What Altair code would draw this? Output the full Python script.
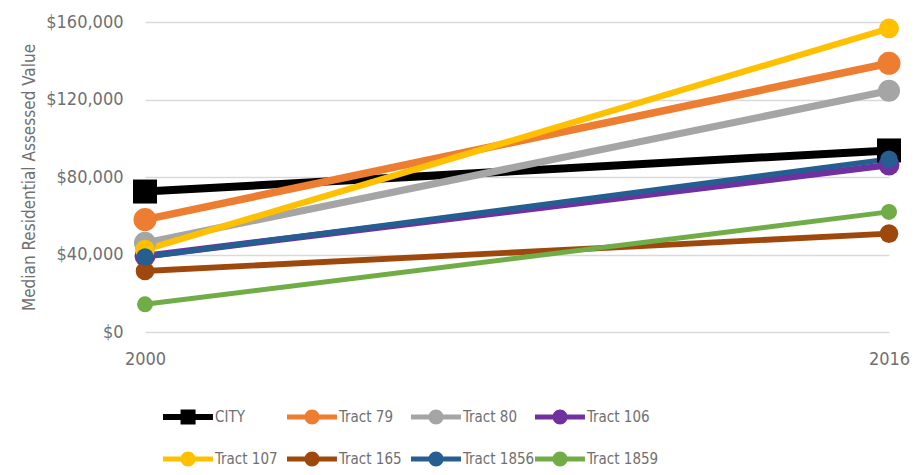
import altair as alt
import pandas as pd

years = ["2000", "2016"]
series = ["CITY", "Tract 79", "Tract 80", "Tract 106", "Tract 107", "Tract 165", "Tract 1856", "Tract 1859"]
values_2000 = [72500, 58000, 46000, 39200, 42500, 31500, 38800, 14300]
values_2016 = [93700, 138700, 124500, 86200, 156700, 50800, 89200, 62000]
colors = ["#000000", "#ED7D31", "#A5A5A5", "#7030A0", "#FFC000", "#9E480E", "#255E91", "#70AD47"]
shapes = ["square", "circle", "circle", "circle", "circle", "circle", "circle", "circle"]
marker_sizes = [576, 256, 256, 256, 256, 256, 256, 256]
widths = [8, 5, 5, 5, 5, 5, 5, 5]
y_ticks = [0, 40000, 80000, 120000, 160000]

rows = []
for i, s in enumerate(series):
    rows.append({"series": s, "year": years[0], "value": values_2000[i], "idx": i})
    rows.append({"series": s, "year": years[1], "value": values_2016[i], "idx": i})
df = pd.DataFrame(rows)

FONT = "DejaVu Sans Condensed"
TXT = "#707070"

circle_path = "M-1,-0.17H2.33V0.17H-1Z M1.17,0A0.5,0.5 0 1 1 0.17,0A0.5,0.5 0 1 1 1.17,0Z"
square_path = "M-1,-0.2H2.33V0.2H-1Z M0.17,-0.5H1.17V0.5H0.17Z"
legend_shapes = [square_path] + [circle_path] * 7

x_enc = alt.X("year:O", scale=alt.Scale(domain=years, padding=0),
              axis=alt.Axis(title=None, labelAngle=0, labelFontSize=18, labelColor=TXT,
                            labelFont=FONT, ticks=False, domain=False, labelPadding=18,
                            grid=False))
y_enc = alt.Y("value:Q", scale=alt.Scale(domain=[0, 160000], nice=False),
              axis=alt.Axis(title="Median Residential Assessed Value", values=y_ticks,
                            format="$,.0f", labelFontSize=18, labelColor=TXT, labelFont=FONT,
                            titleFont=FONT, titleFontSize=17, titleColor=TXT,
                            titleFontWeight="normal", titlePadding=7,
                            ticks=False, domain=False, labelPadding=22,
                            gridColor="#D9D9D9", gridWidth=1.5))

color_scale = alt.Scale(domain=series, range=colors)

lines = alt.Chart(df).mark_line().encode(
    x=x_enc, y=y_enc,
    color=alt.Color("series:N", scale=color_scale, legend=None),
    strokeWidth=alt.StrokeWidth("series:N", scale=alt.Scale(domain=series, range=widths), legend=None),
    detail="series:N",
)

points = alt.Chart(df).mark_point(filled=True, opacity=1).encode(
    x=x_enc, y=y_enc,
    color=alt.Color("series:N", scale=color_scale, legend=None),
    shape=alt.Shape("series:N", scale=alt.Scale(domain=series, range=shapes), legend=None),
    size=alt.Size("series:N", scale=alt.Scale(domain=series, range=marker_sizes), legend=None),
    order=alt.Order("idx:Q"),
)

legend = alt.Legend(
    title=None, orient="none", legendX=18, legendY=380, direction="horizontal", columns=4,
    gridAlign="all", columnPadding=-2, rowPadding=19,
    labelFont=FONT, labelFontSize=15, labelColor=TXT, labelOffset=22, labelLimit=200,
    symbolSize=900, symbolStrokeWidth=0, symbolOpacity=1,
)

legend_layer = alt.Chart(df).transform_filter("false").mark_point(filled=True, opacity=1).encode(
    x=x_enc, y=y_enc,
    color=alt.Color("series:N", scale=color_scale, legend=legend),
    shape=alt.Shape("series:N", scale=alt.Scale(domain=series, range=legend_shapes), legend=legend),
)

chart = alt.layer(lines, points, legend_layer).resolve_scale(
    shape="independent", size="independent", strokeWidth="independent"
).resolve_legend(color="independent", shape="independent").properties(
    width=744, height=310,
    autosize=alt.AutoSizeParams(type="none"),
    padding={"left": 137, "top": 14, "right": 22, "bottom": 135},
).configure_view(stroke=None).configure_axis(labelFont=FONT, titleFont=FONT)

chart.save("out.html", embed_options={"renderer": "svg", "actions": False})
